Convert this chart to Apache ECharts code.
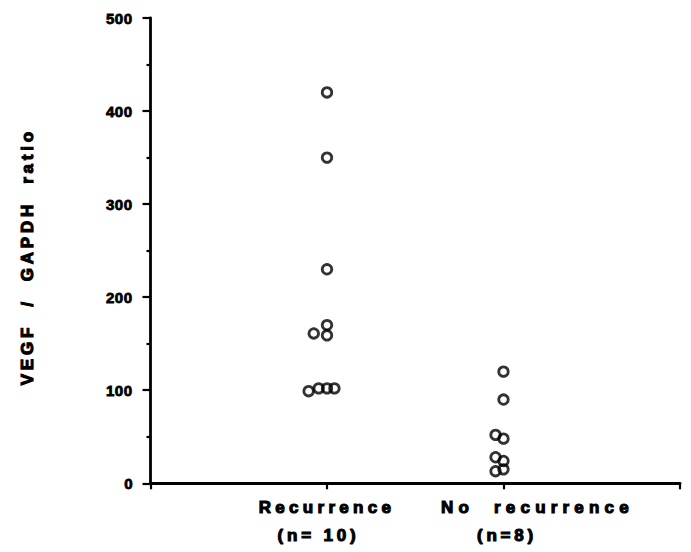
<!DOCTYPE html>
<html><head><meta charset="utf-8">
<script src="https://cdn.jsdelivr.net/npm/echarts@6/dist/echarts.min.js"></script>
<style>html,body{margin:0;padding:0;background:#fff}#c{width:691px;height:552px}</style>
</head><body><div id="c"></div>
<script>
// ---- data ----
const categories = ['Recurrence', 'No\u00a0 recurrence'];
const groupSizes = ['(n= 10)', '(n=8)'];
const yAxisName = 'VEGF\u00a0 /\u00a0 GAPDH\u00a0 ratio';
const yTickLabels = ['0', '100', '200', '300', '400', '500'];
const recurrence = [420, 350, 230, 170, 161, 159, 99, 102, 102, 102];
const recurrenceJitter = [0, 0, 0, 0, -0.075, 0, -0.104, -0.047, 0, 0.042];
const noRecurrence = [120, 90, 52, 48, 28, 24, 13, 15];
const noRecurrenceJitter = [0, 0, -0.045, 0, -0.045, 0, -0.045, 0];

const ink = '#000';
const font = '"Liberation Sans", Arial, Helvetica, sans-serif';
const heavy = {fontFamily: font, fontWeight: 'bold', color: ink, textBorderColor: ink, textBorderWidth: 1.1};

const chart = echarts.init(document.getElementById('c'), null, {renderer: 'svg'});
const pointStyle = {color: 'rgba(0,0,0,0)', borderColor: ink, borderWidth: 2.8};

function rich(extra) { return Object.assign({fontSize: 17, lineHeight: 28, align: 'center'}, heavy, extra); }

chart.setOption({
  animation: false,
  backgroundColor: '#fff',
  grid: {left: 150.5, right: 11, top: 18, bottom: 68.7, containLabel: false},
  xAxis: {
    type: 'value', min: 0, max: 3, interval: 1,
    axisLine: {show: true, lineStyle: {color: ink, width: 2.8}},
    axisTick: {show: true, length: 6, lineStyle: {color: ink, width: 2.2}},
    splitLine: {show: false},
    axisLabel: {
      margin: 10,
      formatter: function (v) {
        if (v === 1) return '{a|' + categories[0] + '}\n{b|' + groupSizes[0] + '}';
        if (v === 2) return '{c|' + categories[1] + '}\n{d|' + groupSizes[1] + '}';
        return '';
      },
      rich: {
        a: rich({}),
        b: rich({padding: [0, 17, 0, 0]}),
        c: rich({padding: [0, 0, 0, 68]}),
        d: rich({padding: [0, 0, 0, 7]})
      }
    }
  },
  yAxis: {
    type: 'value', min: 0, max: 500, interval: 100,
    name: yAxisName, nameLocation: 'middle', nameGap: 115, nameRotate: 90,
    nameTextStyle: Object.assign({fontSize: 17, padding: [0, 12, 0, 0]}, heavy),
    axisLine: {show: true, lineStyle: {color: ink, width: 2.8}},
    axisTick: {show: true, length: 8, lineStyle: {color: ink, width: 2.2}},
    minorTick: {show: true, splitNumber: 2, length: 4, lineStyle: {color: ink, width: 2.2}},
    splitLine: {show: false},
    axisLabel: Object.assign({
      margin: 18, fontSize: 15,
      formatter: function (v) { return yTickLabels[Math.round(v / 100)]; }
    }, heavy, {textBorderWidth: 0.8})
  },
  series: [
    {
      type: 'scatter', symbol: 'circle', symbolSize: 9.5, itemStyle: pointStyle,
      data: recurrence.map(function (v, i) { return [1 + recurrenceJitter[i], v]; })
    },
    {
      type: 'scatter', symbol: 'circle', symbolSize: 9.5, itemStyle: pointStyle,
      data: noRecurrence.map(function (v, i) { return [2 + noRecurrenceJitter[i], v]; })
    }
  ]
});

// letter spacing to mimic the wide typeset labels
const spacing = {};
spacing[categories[0]] = 4.3;
spacing[categories[1]] = 5.2;
spacing[groupSizes[0]] = 3.8;
spacing[groupSizes[1]] = 3.8;
spacing[yAxisName] = 3.8;
spacing['100'] = 0.5; spacing['200'] = 0.5; spacing['300'] = 0.5; spacing['400'] = 0.5; spacing['500'] = 0.5;
document.querySelectorAll('#c svg text').forEach(function (t) {
  const s = spacing[t.textContent];
  if (s != null) t.setAttribute('letter-spacing', s);
});
</script>
</body></html>
